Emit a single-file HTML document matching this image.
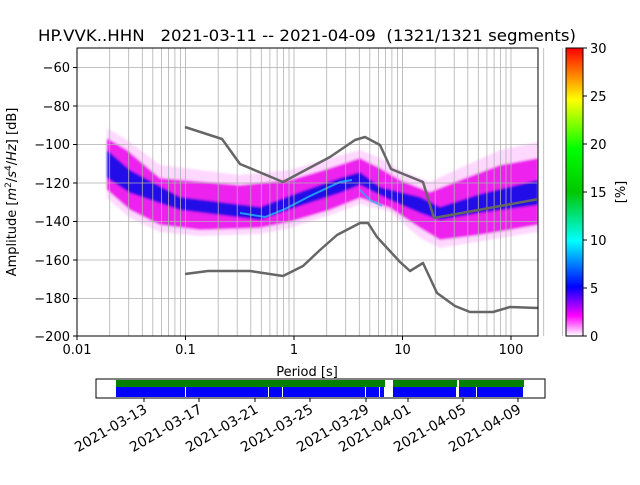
<!DOCTYPE html>
<html><head><meta charset="utf-8"><style>
body{margin:0;background:#fff;}
svg text{font-family:"DejaVu Sans","Liberation Sans",sans-serif;fill:#000;}
</style></head><body>
<svg width="640" height="480" viewBox="0 0 640 480" xmlns="http://www.w3.org/2000/svg">
<defs>
<linearGradient id="cb" x1="0" y1="1" x2="0" y2="0">
<stop offset="0" stop-color="#ffffff"/>
<stop offset="0.07" stop-color="#ff00ff"/>
<stop offset="0.17" stop-color="#0000ff"/>
<stop offset="0.33" stop-color="#00ffff"/>
<stop offset="0.5" stop-color="#00c800"/>
<stop offset="0.65" stop-color="#00ff00"/>
<stop offset="0.82" stop-color="#ffff00"/>
<stop offset="1" stop-color="#ff0000"/>
</linearGradient>
<clipPath id="ax"><rect x="77" y="48" width="461" height="288"/></clipPath>
<filter id="bl"><feGaussianBlur stdDeviation="1"/></filter>
</defs>
<text x="38" y="41" font-size="16" textLength="538" lengthAdjust="spacingAndGlyphs" style="white-space:pre">HP.VVK..HHN   2021-03-11 -- 2021-04-09  (1321/1321 segments)</text>
<g clip-path="url(#ax)">
<g filter="url(#bl)">
<path d="M107,128 L127,140 L160,165 L240,175 L290,170 L330,158 L360,150 L380,158 L400,170 L430,182 L460,168 L500,150 L538,142 L538,232 L500,238 L470,243 L440,248 L420,238 L390,212 L360,204 L330,215 L290,228 L260,234 L200,236 L160,232 L130,218 L107,198 Z" fill="#ffd8ff"/>
<path d="M107,138 L127,150 L160,178 L240,185 L290,180 L330,168 L360,158 L380,168 L400,180 L430,192 L460,180 L500,165 L538,158 L538,225 L480,235 L440,240 L420,228 L390,208 L360,198 L330,210 L290,222 L260,228 L200,230 L160,225 L130,210 L107,190 Z" fill="#ee22ee"/>
<path d="M107,150 L130,170 L180,197 L260,207 L300,192 L340,178 L360,172 L380,187 L420,197 L440,207 L480,194 L538,180 L538,205 L480,213 L440,220 L420,213 L390,200 L360,185 L340,193 L300,206 L260,220 L180,210 L130,193 L107,178 Z" fill="#2010e8"/>
</g>
<path d="M240,213 L265,217 L285,209 L310,196 L340,182 L352,180" fill="none" stroke="#20b0ff" stroke-width="2" opacity="0.85"/>
<path d="M360,190 L370,200 L382,206" fill="none" stroke="#20b0ff" stroke-width="2" opacity="0.7"/>
</g>
<g stroke="#b0b0b0" stroke-width="0.8" fill="none">
<path d="M77,67.5H538M77,106H538M77,144.5H538M77,183H538M77,221.5H538M77,260H538M77,298.5H538"/>
<path id="dg" d="M109.7,48V336M128.7,48V336M142.3,48V336M152.8,48V336M161.4,48V336M168.6,48V336M174.9,48V336M180.5,48V336M185.5,48V336"/>
<use href="#dg" transform="translate(108.5,0)"/>
<use href="#dg" transform="translate(217,0)"/>
<use href="#dg" transform="translate(325.5,0)"/>
<path d="M109.7,48V336M128.7,48V336" transform="translate(434,0)"/>
</g>
<g clip-path="url(#ax)" fill="none" stroke="#666" stroke-width="2.5" stroke-linejoin="round">
<path d="M185,127 L222,139 L240,164 L283,182 L330,157 L355,140 L365,137 L380,145 L391,169 L423,182 L434,218 L539,199"/>
<path d="M185,274 L208,271 L250,271 L283,276 L303,266 L320,250 L337,235 L360,223 L368,223 L377,237 L400,262 L410,271 L423,263 L437,293 L455,306 L470,312 L493,312 L510,307 L539,308"/>
</g>
<rect x="77" y="48" width="461" height="288" fill="none" stroke="#000" stroke-width="1"/>
<g stroke="#000" stroke-width="1">
<path d="M77,336v4M185.5,336v4M294,336v4M402.5,336v4M511,336v4"/>
<path d="M77,67.5h-4M77,106h-4M77,144.5h-4M77,183h-4M77,221.5h-4M77,260h-4M77,298.5h-4M77,336h-4"/>
</g>
<g font-size="13" text-anchor="middle">
<text x="77" y="354">0.01</text><text x="185.5" y="354">0.1</text><text x="294" y="354">1</text><text x="402.5" y="354">10</text><text x="511" y="354">100</text>
<text x="307" y="376">Period [s]</text>
</g>
<g font-size="13" text-anchor="end">
<text x="70" y="72">−60</text><text x="70" y="111">−80</text><text x="70" y="149">−100</text><text x="70" y="188">−120</text><text x="70" y="226">−140</text><text x="70" y="265">−160</text><text x="70" y="303">−180</text><text x="70" y="341">−200</text>
</g>
<text transform="translate(16,192) rotate(-90)" font-size="13" text-anchor="middle">Amplitude [<tspan font-style="italic">m</tspan><tspan font-size="9" dy="-5">2</tspan><tspan dy="5">/</tspan><tspan font-style="italic">s</tspan><tspan font-size="9" dy="-5">4</tspan><tspan dy="5">/</tspan><tspan font-style="italic">Hz</tspan>] [dB]</text>
<rect x="566" y="48" width="17" height="288" fill="url(#cb)" stroke="#000" stroke-width="1"/>
<g stroke="#000"><path d="M583,336h4M583,288h4M583,240h4M583,192h4M583,144h4M583,96h4M583,48h4"/></g>
<g font-size="13"><text x="590" y="341">0</text><text x="590" y="293">5</text><text x="590" y="245">10</text><text x="590" y="197">15</text><text x="590" y="149">20</text><text x="590" y="101">25</text><text x="590" y="53">30</text></g>
<text transform="translate(625,192) rotate(-90)" font-size="13" text-anchor="middle">[%]</text>
<rect x="96" y="379" width="449" height="19" fill="#fff" stroke="#000"/>
<g fill="#008000"><rect x="116" y="380" width="269" height="7"/><rect x="393" y="380" width="64" height="7"/><rect x="459" y="380" width="65" height="7"/></g>
<g fill="#0000ff"><rect x="116" y="387" width="268" height="10"/><rect x="393" y="387" width="63" height="10"/><rect x="459" y="387" width="64" height="10"/></g>
<g stroke="#fff" stroke-width="1"><path d="M185.5,387v10M268.5,387v10M282.5,387v10M365.5,387v10M379.5,387v10M476.5,387v10"/></g>
<g stroke="#000"><path d="M144,398v4M199,398v4M255,398v4M310,398v4M366,398v4M408,398v4M463,398v4M518,398v4"/></g>
<g font-size="13.9" text-anchor="end">
<text transform="translate(148,412) rotate(-30)">2021-03-13</text>
<text transform="translate(203,412) rotate(-30)">2021-03-17</text>
<text transform="translate(259,412) rotate(-30)">2021-03-21</text>
<text transform="translate(314,412) rotate(-30)">2021-03-25</text>
<text transform="translate(370,412) rotate(-30)">2021-03-29</text>
<text transform="translate(412,412) rotate(-30)">2021-04-01</text>
<text transform="translate(467,412) rotate(-30)">2021-04-05</text>
<text transform="translate(522,412) rotate(-30)">2021-04-09</text>
</g>
</svg>
</body></html>
